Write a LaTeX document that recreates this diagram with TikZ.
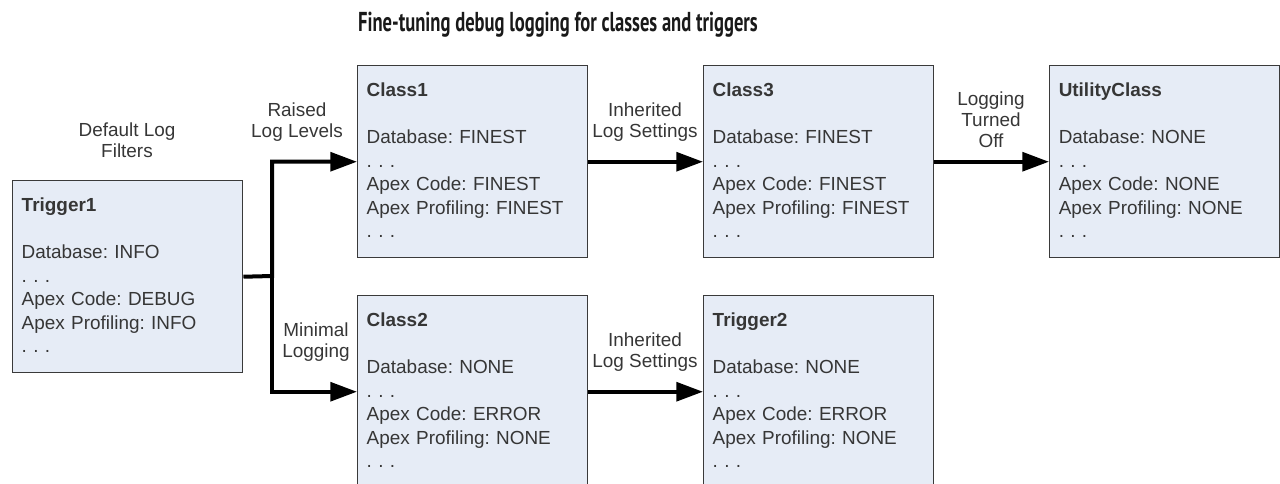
\documentclass[tikz,border=0pt]{standalone}
\usepackage{fontspec}
\setmainfont{Liberation Sans}
\newfontfamily\headfont[FakeStretch=0.68]{PT Sans}
\usepackage{tikz}
\usetikzlibrary{arrows.meta,positioning}
\definecolor{boxfill}{HTML}{E6ECF6}
\definecolor{boxline}{HTML}{3A3A3A}
\definecolor{txtgray}{HTML}{363636}
\frenchspacing

\begin{document}
\begin{tikzpicture}[
          x=0.75pt,y=-0.75pt,
          every node/.style={text=txtgray},
          box/.style={draw=boxline,line width=1.1pt,fill=boxfill,anchor=north west,
                      text width=159pt,inner xsep=6.75pt,inner ysep=0pt,
                      text height=23.25pt,text depth=120.75pt,align=left,
                      font=\fontsize{14.2pt}{17.6pt}\selectfont},
          lbl/.style={align=center,font=\fontsize{14.2pt}{15.6pt}\selectfont},
          arr/.style={-{Triangle[length=20pt,width=14pt]},line width=3pt,black},
      ]
        \useasboundingbox (0,0) rectangle (1280,484);

        \node[anchor=base,text=black!90,font=\headfont\bfseries\fontsize{20.5pt}{22pt}\selectfont]
          (title) at (558,32) {Fine-tuning debug logging for classes and triggers};

        % log filter boxes
        \node[box] (t1) at (12,180)
          {\textbf{Trigger1}\\[17.6pt]
           Database: INFO\\. . .\\Apex Code: DEBUG\\Apex Profiling: INFO\\. . .};
        \node[box] (c1) at (357,65)
          {\textbf{Class1}\\[17.6pt]
           Database: FINEST\\. . .\\Apex Code: FINEST\\Apex Profiling: FINEST\\. . .};
        \node[box] (c2) at (357,295)
          {\textbf{Class2}\\[17.6pt]
           Database: NONE\\. . .\\Apex Code: ERROR\\Apex Profiling: NONE\\. . .};
        \node[box] (c3) at (703,65)
          {\textbf{Class3}\\[17.6pt]
           Database: FINEST\\. . .\\Apex Code: FINEST\\Apex Profiling: FINEST\\. . .};
        \node[box] (t2) at (703,295)
          {\textbf{Trigger2}\\[17.6pt]
           Database: NONE\\. . .\\Apex Code: ERROR\\Apex Profiling: NONE\\. . .};
        \node[box] (uc) at (1049,65)
          {\textbf{UtilityClass}\\[17.6pt]
           Database: NONE\\. . .\\Apex Code: NONE\\Apex Profiling: NONE\\. . .};

        % connector labels
        \node[lbl] (ldefault) at (127,140) {Default Log\\Filters};
        \node[lbl] (lraised) at (297,122.5) {Raised\\Log Levels};
        \node[lbl] (lminimal) at (316,342.5) {Minimal\\Logging};
        \node[lbl] (linhtop) at (645,122.5) {Inherited\\Log Settings};
        \node[lbl] (linhbot) at (645,352.5) {Inherited\\Log Settings};
        \node[lbl] (loff) at (991,119.5) {Logging\\Turned\\Off};

        % connectors
        \coordinate (jn) at (272,276);
        \draw[arr] (t1.east) -- (jn) |- (c1.west);
        \draw[arr] (jn) |- (c2.west);
        \draw[arr] (c1) -- (c3);
        \draw[arr] (c2) -- (t2);
        \draw[arr] (c3) -- (uc);
      \end{tikzpicture}
\end{document}
